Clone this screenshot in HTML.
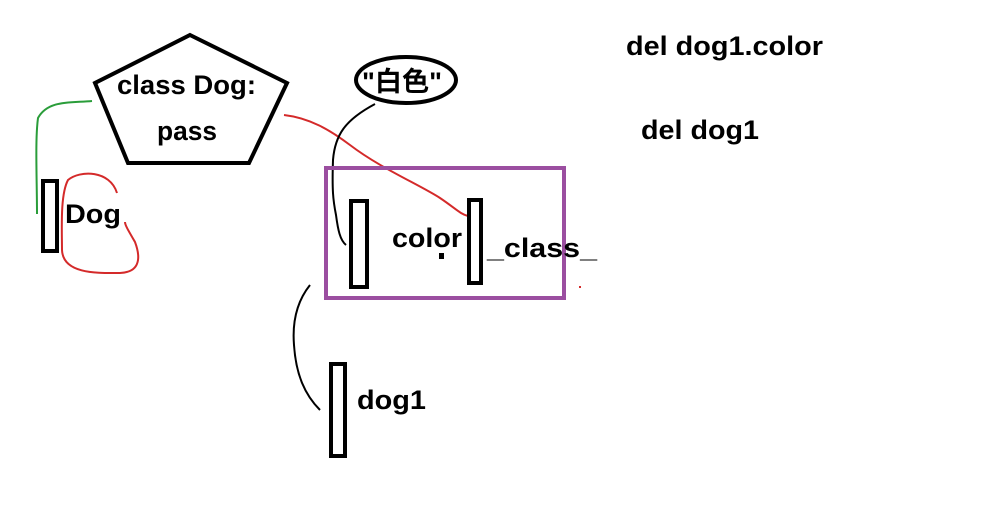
<!DOCTYPE html>
<html><head><meta charset="utf-8"><style>
html,body{margin:0;padding:0;background:#fff;}
svg{display:block}
text{font-family:"Liberation Sans","Noto Sans CJK SC",sans-serif;font-weight:bold;font-size:27px;fill:#000}
</style></head><body>
<svg width="1005" height="531" viewBox="0 0 1005 531" xmlns="http://www.w3.org/2000/svg">
<rect width="1005" height="531" fill="#fff"/>
<polygon points="190,35 287,83 249,163 128,163 95,83" fill="none" stroke="#000" stroke-width="4"/>
<text x="117" y="94" textLength="139" lengthAdjust="spacingAndGlyphs">class Dog:</text>
<text x="157" y="140" textLength="60" lengthAdjust="spacingAndGlyphs">pass</text>
<path d="M92,101 C70,103 48,100 38,118 C35,140 37,180 37,214" fill="none" stroke="#2a9d3a" stroke-width="2"/>
<rect x="43" y="181" width="14" height="70" fill="none" stroke="#000" stroke-width="4"/>
<text x="65" y="223" textLength="56" lengthAdjust="spacingAndGlyphs">Dog</text>
<path d="M117,193 C110,170 80,170 68,180 C60,195 62,230 62,250 C63,275 100,273 120,273 C145,272 138,250 135,242 C128,230 125,225 125,222" fill="none" stroke="#d42a2a" stroke-width="2"/>
<path d="M284,115 C310,118 330,130 350,145 C380,168 420,185 440,198 C455,208 460,214 468,216" fill="none" stroke="#d42a2a" stroke-width="2"/>
<ellipse cx="406" cy="80" rx="50" ry="23" fill="none" stroke="#000" stroke-width="4"/>
<text x="362" y="91" textLength="80" lengthAdjust="spacingAndGlyphs">"白色"</text>
<path d="M375,104 C345,120 335,135 333,160 C332,190 333,200 336,215 C338,230 340,240 346,245" fill="none" stroke="#000" stroke-width="2"/>
<rect x="326" y="168" width="238" height="130" fill="none" stroke="#9b4ea0" stroke-width="4"/>
<rect x="351" y="201" width="16" height="86" fill="none" stroke="#000" stroke-width="4"/>
<rect x="469" y="200" width="12" height="83" fill="none" stroke="#000" stroke-width="4"/>
<text x="392" y="247" textLength="70" lengthAdjust="spacingAndGlyphs">color</text>
<rect x="439" y="253" width="5" height="6" fill="#000"/>
<text x="487" y="257" textLength="110" lengthAdjust="spacingAndGlyphs">_class_</text>
<rect x="579" y="286" width="2" height="2" fill="#d42a2a"/>
<path d="M310,285 C298,300 292,320 294,345 C296,375 305,395 320,410" fill="none" stroke="#000" stroke-width="2"/>
<rect x="331" y="364" width="14" height="92" fill="none" stroke="#000" stroke-width="4"/>
<text x="357" y="409" textLength="69" lengthAdjust="spacingAndGlyphs">dog1</text>
<text x="626" y="55" textLength="197" lengthAdjust="spacingAndGlyphs">del dog1.color</text>
<text x="641" y="139" textLength="118" lengthAdjust="spacingAndGlyphs">del dog1</text>
</svg>
</body></html>
